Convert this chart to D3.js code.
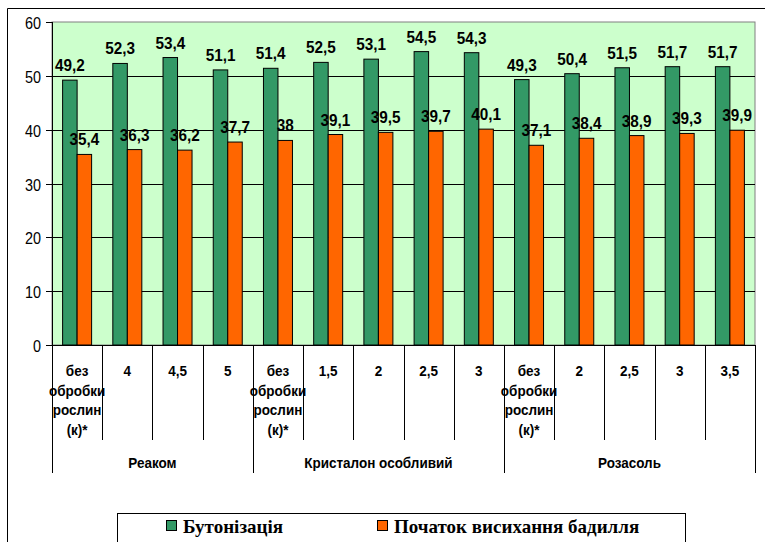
<!DOCTYPE html>
<html>
<head>
<meta charset="utf-8">
<script src="https://cdn.jsdelivr.net/npm/d3@7"></script>
<style>
  body { margin: 0; background: #fff; }
  svg text { font-family: Arial, "Liberation Sans", sans-serif; fill: #000; }
</style>
</head>
<body>
<svg id="chart" width="765" height="542"></svg>
<script>

const categories = ['без обробки рослин (к)*', '4', '4,5', '5',
                    'без обробки рослин (к)*', '1,5', '2', '2,5', '3',
                    'без обробки рослин (к)*', '2', '2,5', '3', '3,5'];

const groups = [
  { name: 'Реаком', size: 4 },
  { name: 'Кристалон особливий', size: 5 },
  { name: 'Розасоль', size: 5 }
];

const budding = [49.2, 52.3, 53.4, 51.1, 51.4, 52.5, 53.1, 54.5, 54.3, 49.3, 50.4, 51.5, 51.7, 51.7];
const wilting = [35.4, 36.3, 36.2, 37.7, 38, 39.1, 39.5, 39.7, 40.1, 37.1, 38.4, 38.9, 39.3, 39.9];

const seriesNames = ['Бутонізація', 'Початок висихання бадилля'];
const colors      = ['#339966', '#ff6600'];
const yTicks      = [0, 10, 20, 30, 40, 50, 60];

const svg = d3.select('#chart');

const plotL = 52,
      plotR = 755,
      plotT = 22,
      plotB = 345,
      squeeze = 0.9;

// text with a slight horizontal squeeze, like the original rendering
function label(sel, x, y, txt, size, anchor, weight) {
  return sel.append('text')
    .attr('transform', `translate(${x},${y}) scale(${squeeze},1)`)
    .attr('text-anchor', anchor)
    .style('font-size', size + 'px')
    .style('font-weight', weight)
    .text(txt);
}

// outer frame
svg.append('path')
  .attr('d', 'M7.5,542 V8.5 H765')
  .attr('fill', 'none')
  .attr('stroke', '#000')
  .attr('stroke-width', 1);

const x = d3.scaleBand()
  .domain(d3.range(categories.length))
  .range([plotL, plotR])
  .padding(0);

const barW = 14.5;
const xInner = d3.scaleBand()
  .domain([0, 1])
  .range([0, barW * 2]);
const innerOffset = (x.bandwidth() - barW * 2) / 2;

const y = d3.scaleLinear()
  .domain([0, 60])
  .range([plotB, plotT]);

// plot background
svg.append('rect')
  .attr('x', plotL)
  .attr('y', plotT)
  .attr('width', plotR - plotL)
  .attr('height', plotB - plotT)
  .attr('fill', '#ccffcc')
  .attr('stroke', '#808080')
  .attr('stroke-width', 1);

// grid lines
svg.append('g')
  .selectAll('line')
  .data(yTicks.filter(d => d > 0 && d < 60))
  .join('line')
  .attr('x1', plotL)
  .attr('x2', plotR)
  .attr('y1', d => Math.round(y(d)) + 0.5)
  .attr('y2', d => Math.round(y(d)) + 0.5)
  .attr('stroke', '#000')
  .attr('stroke-width', 1);

// y axis
const yAxis = svg.append('g');

yAxis.append('line')
  .attr('x1', plotL + 0.5).attr('x2', plotL + 0.5)
  .attr('y1', plotT).attr('y2', plotB)
  .attr('stroke', '#000');

yTicks.forEach((t) => {
  const ty = Math.round(y(t)) + 0.5;
  yAxis.append('line')
    .attr('x1', plotL - 6).attr('x2', plotL)
    .attr('y1', ty).attr('y2', ty)
    .attr('stroke', '#000');
  label(yAxis, 41, ty + 6, t, 16, 'end', 'normal');
});

// bars
const series = [budding, wilting];

series.forEach((values, s) => {

  const g = svg.append('g');

  g.selectAll('rect')
    .data(values)
    .join('rect')
    .attr('x', (d, i) => x(i) + innerOffset + xInner(s))
    .attr('y', d => y(d))
    .attr('width', xInner.bandwidth())
    .attr('height', d => plotB - y(d))
    .attr('fill', colors[s])
    .attr('stroke', '#000')
    .attr('stroke-width', 1);

  values.forEach((d, i) => {
    const cx = x(i) + innerOffset + xInner(s) + xInner.bandwidth() / 2;
    label(g, cx, y(d) - 9, String(d).replace('.', ','), 17, 'middle', 'bold');
  });

});

// x axis line
svg.append('line')
  .attr('x1', plotL).attr('x2', plotR)
  .attr('y1', plotB + 0.5).attr('y2', plotB + 0.5)
  .attr('stroke', '#000');

// category labels and separators
const xAxis = svg.append('g');

const groupEdges = [0];
groups.forEach((g) => groupEdges.push(groupEdges[groupEdges.length - 1] + g.size));

for (let i = 0; i <= categories.length; i++) {
  const sx = Math.round(i < categories.length ? x(i) : plotR) + 0.5;
  const isGroupEdge = groupEdges.includes(i);
  xAxis.append('line')
    .attr('x1', sx).attr('x2', sx)
    .attr('y1', plotB)
    .attr('y2', isGroupEdge ? 473 : 440)
    .attr('stroke', '#000');
}

categories.forEach((c, i) => {
  const cx = x(i) + x.bandwidth() / 2;
  const lines = c === 'без обробки рослин (к)*' ? ['без', 'обробки', 'рослин', '(к)*'] : [c];
  lines.forEach((ln, k) => {
    label(xAxis, cx, 376 + k * 19.5, ln, 15, 'middle', 'bold');
  });
});

groups.forEach((g, gi) => {
  const x0 = x(groupEdges[gi]),
        x1 = groupEdges[gi + 1] < categories.length ? x(groupEdges[gi + 1]) : plotR;
  label(xAxis, (x0 + x1) / 2, 468, g.name, 15, 'middle', 'bold');
});

// legend
const legend = svg.append('g');

legend.append('rect')
  .attr('x', 117.5)
  .attr('y', 513.5)
  .attr('width', 568)
  .attr('height', 40)
  .attr('fill', '#fff')
  .attr('stroke', '#000');

const legendX = [166, 377];

seriesNames.forEach((name, s) => {
  legend.append('rect')
    .attr('x', legendX[s] + 0.5)
    .attr('y', 520.5)
    .attr('width', 10)
    .attr('height', 10)
    .attr('fill', colors[s])
    .attr('stroke', '#000');

  legend.append('text')
    .attr('x', legendX[s] + 17)
    .attr('y', 533)
    .style('font-family', '"Liberation Serif", "Times New Roman", serif')
    .style('font-size', '19px')
    .style('font-weight', 'bold')
    .text(name);
});

</script>
</body>
</html>
